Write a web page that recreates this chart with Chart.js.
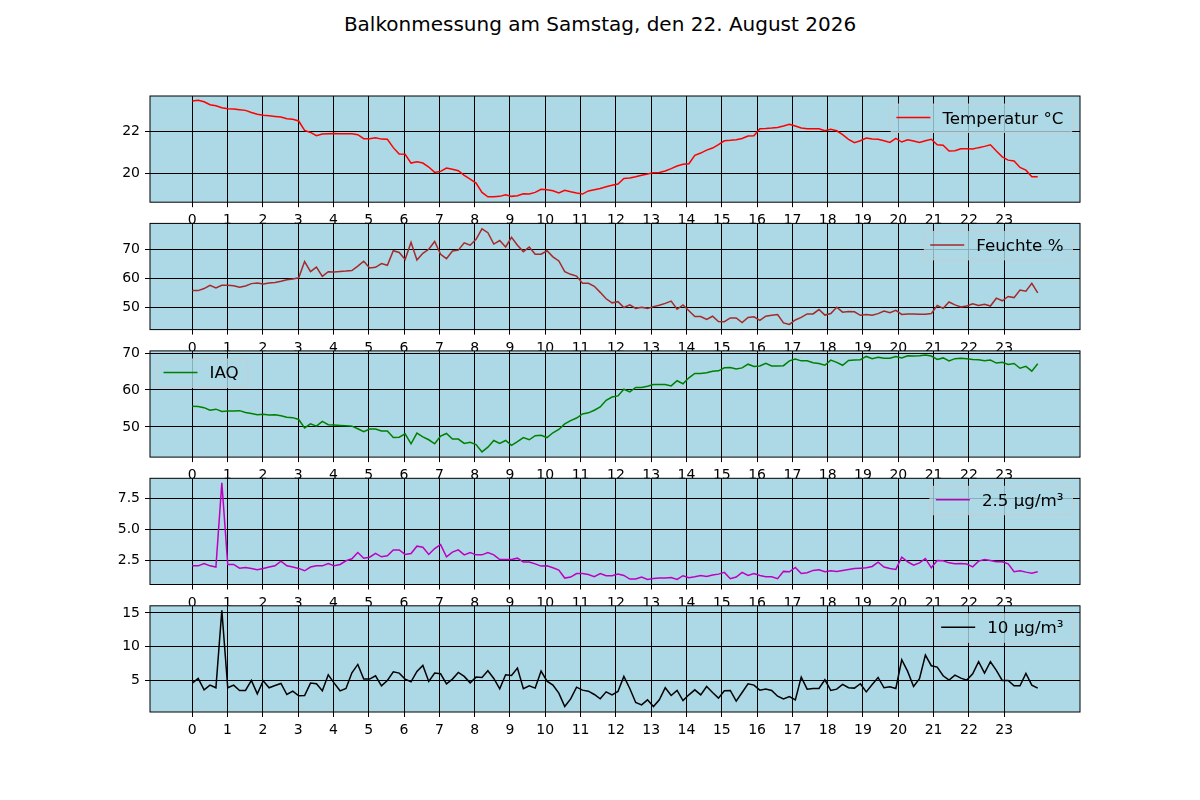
<!DOCTYPE html>
<html><head><meta charset="utf-8"><title>Balkonmessung</title>
<script src="https://cdn.jsdelivr.net/npm/chart.js"></script>
<style>
body { margin: 0; background: #fff; width: 1200px; height: 800px; position: relative; overflow: hidden; font-family: "DejaVu Sans", sans-serif; }
#titel { position: absolute; left: 0; top: 13px; width: 1200px; text-align: center; font-size: 20px; line-height: 22px; color: #000; }
canvas { position: absolute; left: 0; }
</style></head>
<body>
<div id="titel">Balkonmessung am Samstag, den 22. August 2026</div>
<script>
// Stunden-Ticks der x-Achse
const stunden = [0,1,2,3,4,5,6,7,8,9,10,11,12,13,14,15,16,17,18,19,20,21,22,23];

// Messwerte, etwa alle 10 Minuten (144 Werte)
const temperatur = [
  23.46,23.49,23.42,23.28,23.23,23.14, 23.09,23.07,23.04,23.01,22.91,22.82,
  22.78,22.75,22.72,22.69,22.61,22.58, 22.5,22.05,21.95,21.79,21.87,21.89,
  21.9,21.89,21.89,21.89,21.84,21.65, 21.65,21.7,21.63,21.62,21.22,20.91,
  20.9,20.48,20.54,20.48,20.29,20.03, 20.08,20.24,20.18,20.11,19.89,19.71,
  19.52,19.07,18.86,18.86,18.88,18.96, 18.88,18.91,19.0,18.99,19.07,19.22,
  19.2,19.15,19.04,19.17,19.1,19.04, 18.99,19.14,19.2,19.26,19.34,19.41,
  19.47,19.74,19.76,19.82,19.89,19.95, 20.02,20.03,20.1,20.21,20.34,20.42,
  20.45,20.85,20.96,21.1,21.2,21.36, 21.55,21.57,21.6,21.66,21.78,21.79,
  22.13,22.14,22.16,22.19,22.26,22.34, 22.26,22.16,22.13,22.13,22.13,22.03,
  22.1,22.03,21.84,21.62,21.46,21.55, 21.68,21.63,21.62,21.55,21.47,21.66,
  21.49,21.6,21.54,21.47,21.55,21.62, 21.36,21.34,21.06,21.07,21.17,21.17,
  21.15,21.22,21.28,21.36,21.06,20.78, 20.62,20.58,20.27,20.14,19.82,19.82
];
const feuchte = [
  55.8,55.8,56.5,57.6,56.7,57.6, 57.6,57.5,57.0,57.4,58.2,58.4,
  58.1,58.4,58.6,59.0,59.5,59.8, 60.2,65.8,62.3,63.9,60.7,62.3,
  62.2,62.4,62.5,62.7,64.2,65.9, 63.6,63.8,65.1,64.5,69.5,68.9,
  66.5,72.4,66.3,68.6,70.0,72.7, 68.3,66.8,69.4,69.7,72.2,71.4,
  73.4,77.0,75.7,71.8,73.0,70.8, 74.1,71.4,69.2,70.8,68.3,68.3,
  69.5,67.4,66.0,62.3,61.4,60.8, 58.3,58.3,57.3,55.2,53.0,51.6,
  52.0,50.0,50.9,49.7,50.1,49.7, 50.3,50.8,51.4,52.2,49.4,50.9,
  48.9,46.9,46.9,45.9,47.0,45.2, 45.1,46.4,46.4,44.8,46.6,46.8,
  45.6,47.0,47.3,47.6,44.7,44.2, 45.7,46.6,47.8,47.8,49.3,47.4,
  47.9,50.1,48.4,48.6,48.5,47.3, 47.6,47.3,47.9,48.8,48.2,49.0,
  47.6,47.8,47.8,47.7,47.7,47.9, 50.7,49.7,51.9,50.9,50.2,50.5,
  51.3,50.7,51.1,50.5,53.2,52.3, 53.8,53.4,56.0,55.6,58.3,55.0
];
const iaq = [
  55.6,55.5,55.2,54.5,54.8,54.2, 54.3,54.3,54.4,53.9,53.6,53.3,
  53.4,53.2,53.3,53.0,52.6,52.5, 52.0,49.7,50.8,50.2,51.5,50.6,
  50.5,50.4,50.3,50.2,49.5,48.7, 49.4,49.4,48.9,48.9,47.1,47.2,
  48.1,45.4,48.3,47.3,46.5,45.4, 47.5,48.2,46.7,46.7,45.5,45.8,
  45.2,43.2,44.5,46.3,45.5,46.3, 45.0,46.0,47.1,46.5,47.6,47.7,
  47.1,48.4,49.3,50.8,51.7,52.4, 53.5,53.8,54.5,55.4,57.2,58.1,
  58.4,60.2,59.5,60.7,60.7,61.0, 61.5,61.5,61.5,61.1,62.5,61.7,
  63.3,64.5,64.5,64.7,65.1,65.2, 66.0,66.1,65.7,66.0,67.0,66.4,
  66.5,67.2,66.5,66.5,66.6,67.9, 68.4,67.9,67.9,67.4,67.2,66.7,
  68.1,67.5,66.7,68.0,68.1,68.2, 69.1,68.5,68.9,68.6,68.6,69.1,
  68.7,69.3,69.2,69.3,69.5,69.2, 68.3,68.7,67.9,68.5,68.6,68.5,
  68.3,68.2,67.9,68.1,67.3,67.5, 66.9,67.2,65.9,66.4,65.1,67.1
];
const pm25 = [
  2.04,2.04,2.23,2.04,1.94,8.76, 2.15,2.15,1.85,1.91,1.83,1.72,
  1.83,1.94,2.04,2.42,2.04,1.94, 1.83,1.64,1.94,2.04,2.04,2.23,
  2.04,2.15,2.45,2.61,3.12,2.66, 2.74,3.04,2.77,2.85,3.33,3.33,
  2.96,3.04,3.63,3.55,2.96,3.44, 3.76,2.77,3.15,3.33,2.93,3.12,
  2.93,2.93,3.12,2.93,2.55,2.55, 2.55,2.66,2.34,2.34,2.2,2.02,
  2.04,1.88,1.69,1.05,1.13,1.42, 1.42,1.34,1.16,1.42,1.24,1.24,
  1.37,1.26,0.97,0.97,1.13,0.94, 1.02,1.05,1.05,1.1,0.94,1.24,
  1.08,1.16,1.26,1.18,1.29,1.37, 1.51,1.0,1.13,1.51,1.26,1.42,
  1.26,1.16,1.16,1.0,1.59,1.56, 1.91,1.42,1.48,1.67,1.72,1.56,
  1.64,1.59,1.67,1.75,1.83,1.85, 1.88,1.99,2.34,1.94,1.83,1.75,
  2.74,2.37,2.1,2.28,2.63,1.88, 2.47,2.45,2.28,2.2,2.23,2.18,
  1.96,2.42,2.55,2.47,2.37,2.37, 2.2,1.56,1.64,1.53,1.45,1.56
];
const pm10 = [
  4.66,5.34,3.67,4.36,3.97,15.39, 3.97,4.36,3.57,3.57,5.05,3.08,
  5.0,3.97,4.31,4.61,2.98,3.47, 2.78,2.83,4.66,4.56,3.52,5.89,
  4.66,3.52,3.87,6.18,7.41,5.25, 5.25,5.74,4.26,5.05,6.33,6.13,
  5.25,4.85,6.38,7.27,4.9,6.13, 6.03,4.56,5.25,6.23,5.64,4.7,
  5.54,5.49,6.48,5.34,3.82,5.89, 5.79,6.87,3.82,4.26,3.92,6.43,
  4.95,4.36,3.18,1.21,2.34,4.06, 3.62,3.47,2.98,2.34,3.37,2.93,
  3.42,5.64,3.87,1.8,1.45,2.19, 1.21,2.19,3.97,2.83,3.57,2.09,
  2.93,3.67,2.93,4.16,3.28,2.44, 3.52,3.57,2.0,3.28,4.56,4.36,
  3.62,3.77,3.57,2.73,2.34,2.68, 2.19,5.54,3.77,3.87,3.87,5.15,
  3.57,3.77,4.46,3.97,3.92,4.56, 3.37,4.46,5.49,3.97,4.11,3.87,
  8.1,6.38,4.16,5.3,8.79,7.22, 7.02,5.74,5.1,5.84,5.39,5.1,
  6.03,7.81,6.13,7.81,6.53,5.05, 5.05,4.26,4.26,6.08,4.36,3.92
];

// Messzeitpunkte in Stunden (letzte Messung 23:57)
const letzteZeit = 23.95;
const zeiten = temperatur.map((_, i) => i * letzteZeit / (temperatur.length - 1));

const panels = [
  { label: 'Temperatur °C', werte: temperatur, farbe: '#ff0000', min: 18.6, max: 23.7, yticks: [20, 22], ecke: 'rechts', top: 96 },
  { label: 'Feuchte %', werte: feuchte, farbe: '#a52a2a', min: 42.4, max: 78.9, yticks: [50, 60, 70], ecke: 'rechts', top: 223.4 },
  { label: 'IAQ', werte: iaq, farbe: '#008000', min: 41.8, max: 70.6, yticks: [50, 60, 70], ecke: 'links', top: 350.9 },
  { label: '2.5 µg/m³', werte: pm25, farbe: '#bf00bf', min: 0.53, max: 9.12, yticks: [2.5, 5, 7.5], ecke: 'rechts', top: 478.3, dez: 1 },
  { label: '10 µg/m³', werte: pm10, farbe: '#000000', min: 0.4, max: 16.05, yticks: [5, 10, 15], ecke: 'rechts', top: 605.8 }
];
const achsenHoehe = 106.2;
const schrift = { family: 'DejaVu Sans', size: 14 };

const hintergrund = {
  id: 'hintergrund',
  beforeDraw(chart) {
    const a = chart.chartArea, ctx = chart.ctx;
    ctx.save();
    ctx.fillStyle = '#add8e6';
    ctx.fillRect(a.left, a.top, a.right - a.left, a.bottom - a.top);
    ctx.restore();
  },
  afterDraw(chart) {
    const a = chart.chartArea, ctx = chart.ctx;
    ctx.save();
    ctx.strokeStyle = '#000';
    ctx.lineWidth = 1;
    ctx.strokeRect(a.left, a.top, a.right - a.left, a.bottom - a.top);
    ctx.restore();
  }
};

// Legende im Diagramm, wie bei matplotlib
const legende = {
  id: 'legende',
  afterDatasetsDraw(chart, args, opts) {
    const a = chart.chartArea, ctx = chart.ctx;
    const ds = chart.data.datasets[0];
    ctx.save();
    ctx.font = '16.7px "DejaVu Sans"';
    const tw = ctx.measureText(ds.label).width;
    const w = 6 + 34 + 12 + tw + 9, h = 28.5;
    const x = opts.ecke === 'links' ? a.left + 7.5 : a.right - 7.5 - w;
    const y = a.top + 8;
    ctx.beginPath();
    ctx.roundRect(x, y, w, h, 3);
    ctx.fillStyle = 'rgba(173,216,230,0.8)';
    ctx.fill();
    ctx.strokeStyle = 'rgba(204,204,204,0.8)';
    ctx.lineWidth = 1;
    ctx.stroke();
    ctx.beginPath();
    ctx.moveTo(x + 6, y + 13.5);
    ctx.lineTo(x + 40, y + 13.5);
    ctx.strokeStyle = ds.borderColor;
    ctx.lineWidth = 1.5;
    ctx.stroke();
    ctx.fillStyle = '#000';
    ctx.textBaseline = 'alphabetic';
    ctx.fillText(ds.label, x + 52, y + 19.5);
    ctx.restore();
  }
};

panels.forEach((p, n) => {
  const cv = document.createElement('canvas');
  const canvasTop = Math.floor(p.top) - 14;
  const hoehe = 150;
  const padTop = p.top - canvasTop;
  cv.width = 1200;
  cv.height = hoehe;
  cv.style.top = canvasTop + 'px';
  cv.style.zIndex = n + 1;
  document.body.appendChild(cv);

  new Chart(cv, {
    type: 'line',
    data: {
      datasets: [{
        label: p.label,
        data: p.werte.map((v, i) => ({ x: zeiten[i], y: v })),
        borderColor: p.farbe,
        borderWidth: 1.5,
        pointRadius: 0,
        tension: 0,
        fill: false
      }]
    },
    options: {
      responsive: false,
      animation: false,
      devicePixelRatio: 1,
      layout: { padding: { left: 0, right: 120, top: padTop, bottom: hoehe - padTop - achsenHoehe - 24 } },
      plugins: { legend: { display: false }, tooltip: { enabled: false }, legende: { ecke: p.ecke } },
      scales: {
        x: {
          type: 'linear',
          bounds: 'data',
          min: -0.05 * letzteZeit,
          max: letzteZeit * 1.05,
          afterBuildTicks: s => { s.ticks = stunden.map(v => ({ value: v })); },
          afterFit: s => { s.height = 24; },
          ticks: { autoSkip: false, maxRotation: 0, color: '#000', font: schrift, padding: 5, callback: v => String(v) },
          grid: { color: '#000', lineWidth: 1, tickLength: 5, tickColor: '#000' },
          border: { display: false }
        },
        y: {
          bounds: 'data',
          min: p.min,
          max: p.max,
          afterBuildTicks: s => { s.ticks = p.yticks.map(v => ({ value: v })); },
          afterFit: s => { s.width = 150; },
          ticks: { color: '#000', font: schrift, padding: 5, callback: v => p.dez ? v.toFixed(p.dez) : String(v) },
          grid: { color: '#000', lineWidth: 1, tickLength: 5, tickColor: '#000' },
          border: { display: false }
        }
      }
    },
    plugins: [hintergrund, legende]
  });
});
</script>
</body></html>
